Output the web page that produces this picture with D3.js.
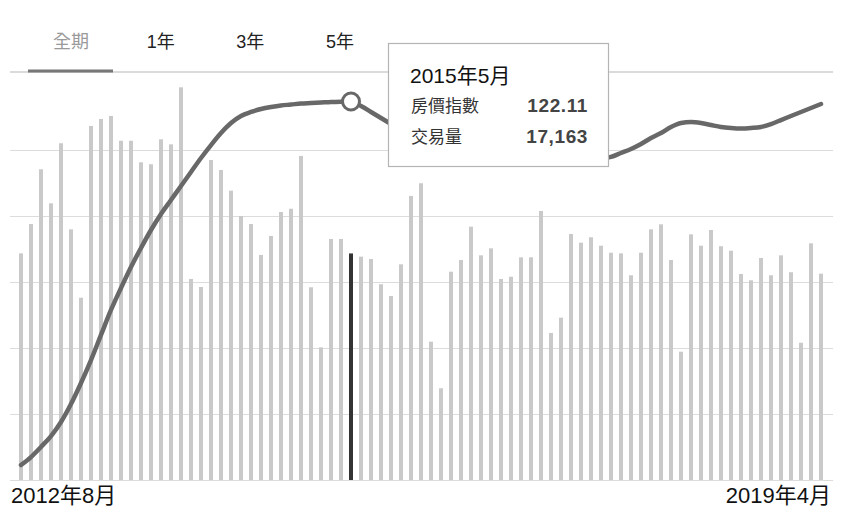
<!DOCTYPE html>
<html>
<head>
<meta charset="utf-8">
<script src="https://cdn.jsdelivr.net/npm/d3@7"></script>
<style>
  html, body { margin: 0; padding: 0; background: #fff; }
  svg { display: block; font-family: "Liberation Sans", Arial, "Noto Sans CJK TC", sans-serif; }
</style>
</head>
<body>
<svg id="chart" width="847" height="507"></svg>
<script>
// Range tabs
const tabs = ["全期", "1年", "3年", "5年"];

// Monthly transaction volume, 2012年8月 – 2019年4月
const volume = [
  17170, 19390, 23540, 20960, 25510, 18990, 13810, 26820, 27350, 27580,
  25700, 25700, 24070, 23920, 25810, 25430, 29750, 15230, 14620, 24240,
  23490, 21920, 20000, 19390, 17050, 18490, 20300, 20550, 24550, 14600,
  10050, 18260, 18260, 17163, 16920, 16740, 14830, 13940, 16340, 21520,
  22480, 10480, 6950, 15780, 16670, 19190, 17020, 17550, 15230, 15400,
  16870, 16870, 20380, 11140, 12300, 18640, 17980, 18390, 17750, 17220,
  17170, 15510, 17220, 18990, 19370, 16670, 9720, 18610, 17750, 18940,
  17710, 17370, 15610, 15130, 16820, 15510, 17020, 15740, 10400, 17930,
  15630
];

// Monthly house price index
const priceIndex = [
  86.47, 87.25, 88.24, 89.31, 90.69, 92.45, 94.51, 96.76, 99.22, 101.67,
  103.82, 105.88, 107.75, 109.51, 111.08, 112.45, 113.82, 115.20, 116.57, 117.84,
  119.02, 120.00, 120.69, 121.08, 121.37, 121.57, 121.72, 121.81, 121.91, 121.96,
  122.01, 122.06, 122.09, 122.11, 121.67, 121.08, 120.49, 119.90, 119.31, 118.73,
  118.24, 117.75, 117.35, 117.06, 116.76, 116.57, 116.37, 116.27, 116.18, 116.08,
  116.03, 115.98, 115.97, 115.96, 116.03, 116.08, 116.18, 116.32, 116.47, 116.67,
  117.06, 117.45, 117.94, 118.53, 119.02, 119.61, 120.00, 120.10, 120.00, 119.80,
  119.61, 119.51, 119.46, 119.51, 119.61, 119.90, 120.29, 120.69, 121.08, 121.47,
  121.86
];

// Grid values for the volume axis
const volumeTicks = [0, 5000, 10000, 15000, 20000, 25000];

const fmtMonth = d3.timeFormat("%Y年%-m月");
const months = d3.timeMonths(new Date(2012, 7, 1), new Date(2019, 4, 1)).map(fmtMonth);
const selected = "2015年5月";

const svg = d3.select("#chart");

const x = d3.scalePoint().domain(months).range([21, 821]);
const yVol = d3.scaleLinear().domain([0, 30000]).range([480, 84]);
const yIdx = d3.scaleLinear().domain([85, 125]).range([480, 72]);

// Horizontal grid
const grid = svg.append("g")
  .attr("transform", "translate(10,0)")
  .call(d3.axisLeft(yVol).tickValues(volumeTicks).tickSize(-823).tickFormat(""));
grid.select(".domain").remove();
grid.selectAll(".tick line").attr("stroke", "#dcdcdc").attr("stroke-width", 1.2);

// Tab strip
svg.append("line")
  .attr("x1", 10).attr("x2", 833).attr("y1", 72).attr("y2", 72)
  .attr("stroke", "#cfcfcf").attr("stroke-width", 1.5);
svg.append("line")
  .attr("x1", 28).attr("x2", 113).attr("y1", 71).attr("y2", 71)
  .attr("stroke", "#777").attr("stroke-width", 3);
const tabX = d3.scalePoint().domain(tabs).range([71, 340]);
svg.append("g").selectAll("text").data(tabs).join("text")
  .attr("x", d => tabX(d)).attr("y", 48)
  .attr("text-anchor", "middle")
  .attr("font-size", 18)
  .attr("fill", (d, i) => i === 0 ? "#9a9a9a" : "#222")
  .text(d => d);

// Volume bars
svg.append("g").selectAll("rect").data(volume).join("rect")
  .attr("x", (d, i) => x(months[i]) - 2)
  .attr("width", 4)
  .attr("y", d => yVol(d))
  .attr("height", d => yVol(0) - yVol(d))
  .attr("fill", (d, i) => months[i] === selected ? "#333" : "#c9c9c9");

// Price index line
const line = d3.line()
  .x((d, i) => x(months[i]))
  .y(d => yIdx(d))
  .curve(d3.curveMonotoneX);
svg.append("path")
  .datum(priceIndex)
  .attr("d", line)
  .attr("fill", "none")
  .attr("stroke", "#686868")
  .attr("stroke-width", 4.5)
  .attr("stroke-linecap", "round");

const si = months.indexOf(selected);
svg.append("circle")
  .attr("cx", x(selected)).attr("cy", yIdx(priceIndex[si]))
  .attr("r", 8.5)
  .attr("fill", "#fff")
  .attr("stroke", "#686868")
  .attr("stroke-width", 3);

// Tooltip
const tip = svg.append("g");
tip.append("rect")
  .attr("x", 388.5).attr("y", 43.5).attr("width", 220).attr("height", 123)
  .attr("fill", "#fff").attr("stroke", "#b4b4b4").attr("stroke-width", 1.2);
tip.append("text")
  .attr("x", 410).attr("y", 83)
  .attr("font-size", 21).attr("fill", "#111")
  .text(selected);
const rows = [
  ["房價指數", d3.format(".2f")(priceIndex[si])],
  ["交易量", d3.format(",")(volume[si])]
];
rows.forEach((r, k) => {
  const yy = 112 + k * 31;
  tip.append("text")
    .attr("x", 411).attr("y", yy)
    .attr("font-size", 17).attr("fill", "#333")
    .text(r[0]);
  tip.append("text")
    .attr("x", 588).attr("y", yy)
    .attr("text-anchor", "end")
    .attr("font-size", 19).attr("font-weight", "bold")
    .attr("letter-spacing", 0.6)
    .attr("fill", "#444")
    .text(r[1]);
});

// Range labels
svg.append("text")
  .attr("x", 11).attr("y", 503)
  .attr("font-size", 22).attr("fill", "#111")
  .text(months[0]);
svg.append("text")
  .attr("x", 831).attr("y", 503)
  .attr("text-anchor", "end")
  .attr("font-size", 22).attr("fill", "#111")
  .text(months[months.length - 1]);
</script>
</body>
</html>
